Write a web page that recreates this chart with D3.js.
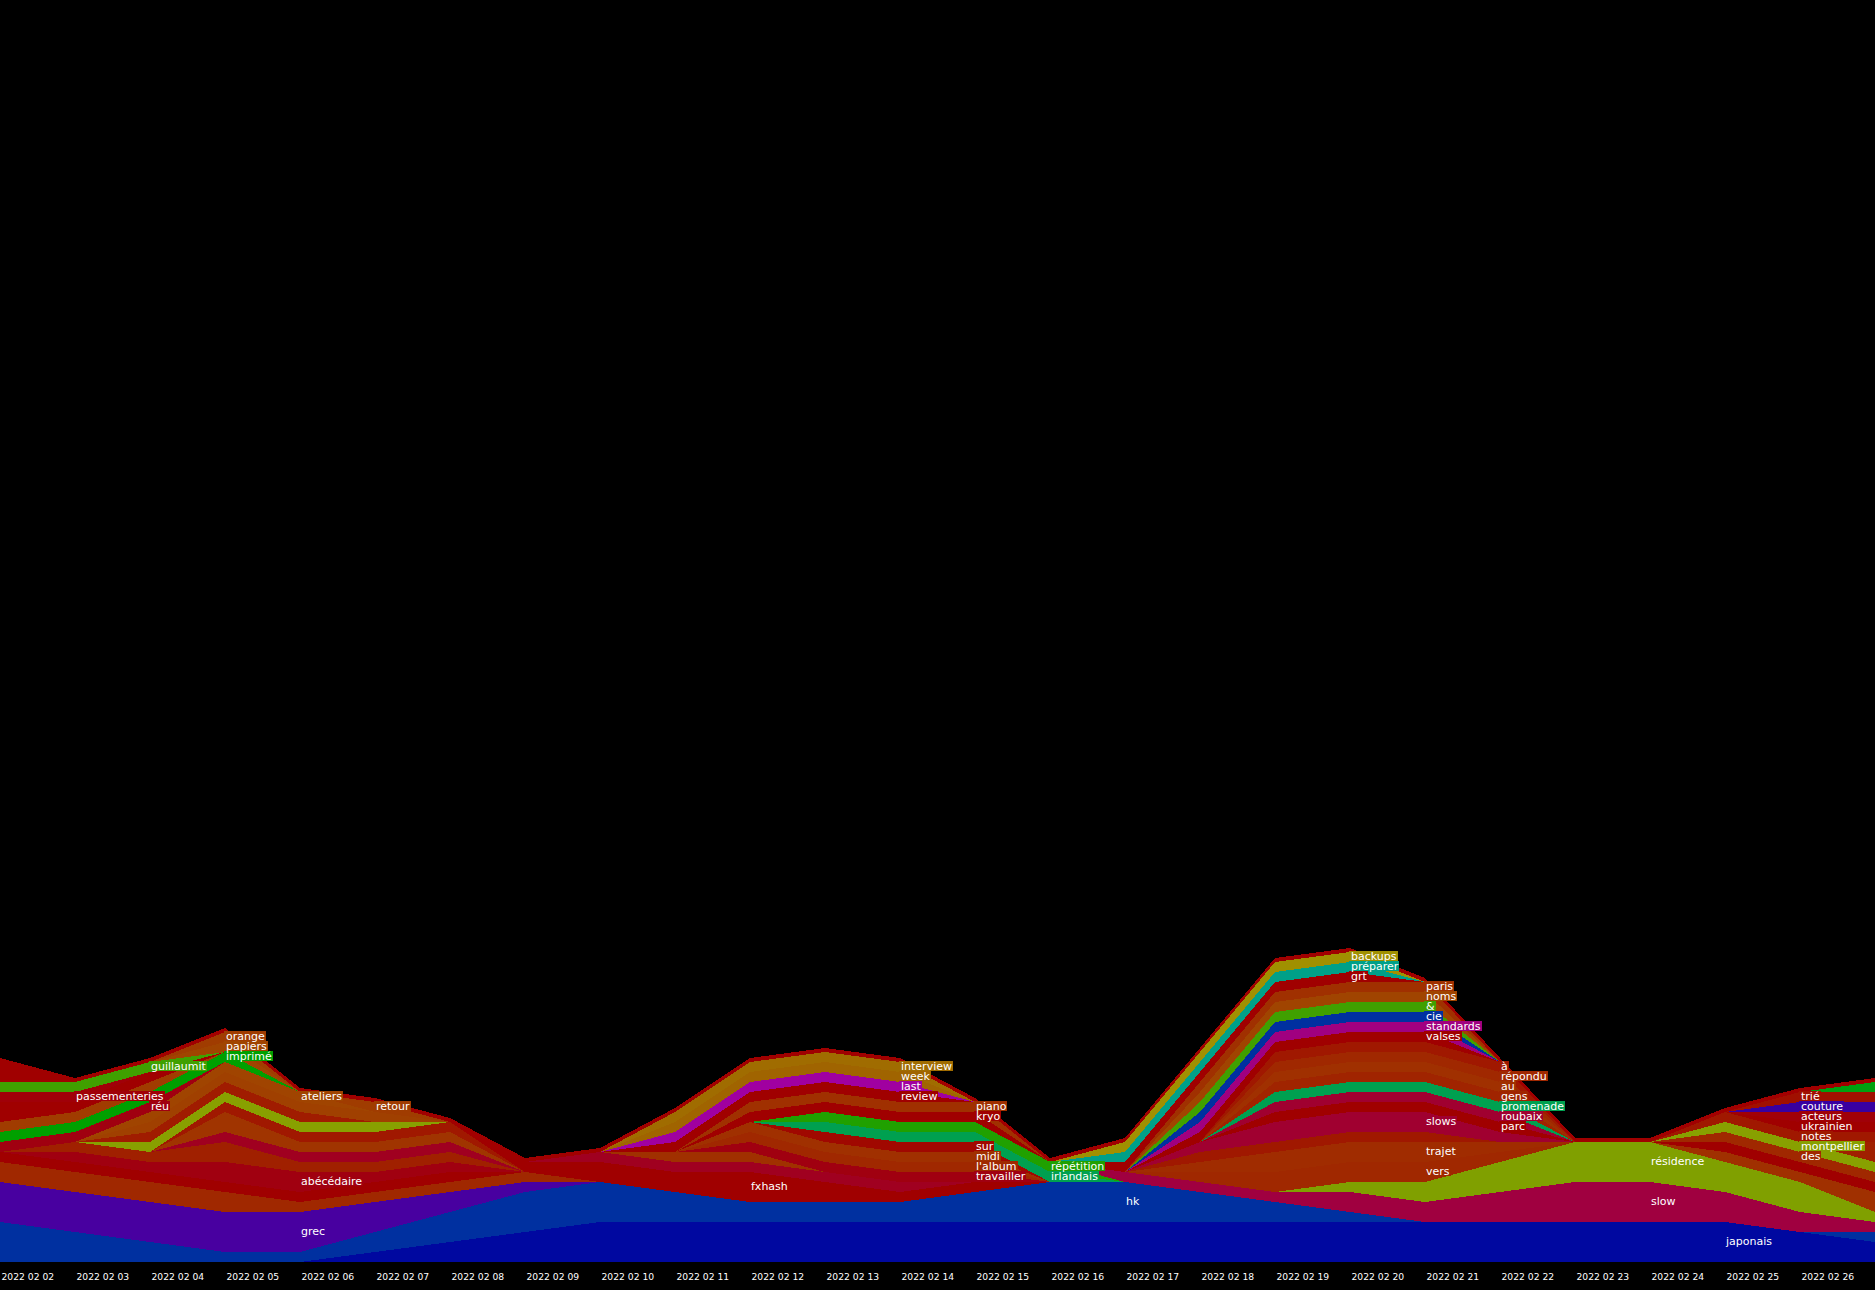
<!DOCTYPE html>
<html><head><meta charset="utf-8">
<script src="https://cdn.jsdelivr.net/npm/d3@7"></script>
<style>
html,body{margin:0;padding:0;background:#000;overflow:hidden;}
svg{display:block;}
</style></head><body>
<svg id="chart" width="1875" height="1290"></svg>
<script>
// ---- data ----
const dates = ["2022 02 02","2022 02 03","2022 02 04","2022 02 05","2022 02 06","2022 02 07","2022 02 08","2022 02 09","2022 02 10","2022 02 11","2022 02 12","2022 02 13","2022 02 14","2022 02 15","2022 02 16","2022 02 17","2022 02 18","2022 02 19","2022 02 20","2022 02 21","2022 02 22","2022 02 23","2022 02 24","2022 02 25","2022 02 26","2022 02 27"];
const tickLabels = dates.slice(0, 25);

// series names, bottom to top ("_" = unlabelled word)
const seriesNames = [
 "japonais","hk","grec",
 "_a1","_a2","abécédaire","_a3","_a4","_a5","_a6","_a7","_a8","_a9","ateliers","réu","imprimé","_a10","retour","_a11","passementeries","guillaumit","papiers","orange","_a12",
 "fxhash","_b1","_b2","travailler","l'album","midi","sur","irlandais","répétition","kryo","piano","review","last","week","interview",
 "slow","résidence","vers","trajet","_c1","slows","parc","roubaix","promenade","gens","au","répondu","à","valses","standards","cie","&","noms","paris","grt","préparer","backups",
 "_d1","_d2","des","montpellier","_d3","notes","ukrainien","acteurs","couture","trié","_d4",
 "_top"
];

// values per date (02 02 … 02 27), groups of five
const seriesValues = [
 /*japonais*/ [0,0,0,0,0, 1,2,3,4,4, 4,4,4,4,4, 4,4,4,4,4, 4,4,4,4,3, 2],
 /*hk*/       [4,3,2,1,1, 2,3,4,4,3, 2,2,2,3,4, 4,3,2,1,0, 0,0,0,0,0, 1],
 /*grec*/     [4,4,4,4,4, 3,2,1,0,0, 0,0,0,0,0, 0,0,0,0,0, 0,0,0,0,0, 0],
 /*_a1*/      [2,2,2,2,1, 1,1,1,0,0, 0,0,0,0,0, 0,0,0,0,0, 0,0,0,0,0, 0],
 /*_a2*/      [1,1,1,1,1, 1,1,0,0,0, 0,0,0,0,0, 0,0,0,0,0, 0,0,0,0,0, 0],
 /*abécédaire*/[0,1,1,2,2, 1,1,0,0,0, 0,0,0,0,0, 0,0,0,0,0, 0,0,0,0,0, 0],
 /*_a3*/      [0,1,1,2,1, 1,1,0,0,0, 0,0,0,0,0, 0,0,0,0,0, 0,0,0,0,0, 0],
 /*_a4*/      [0,0,0,1,1, 1,1,0,0,0, 0,0,0,0,0, 0,0,0,0,0, 0,0,0,0,0, 0],
 /*_a5*/      [0,0,0,2,1, 1,1,0,0,0, 0,0,0,0,0, 0,0,0,0,0, 0,0,0,0,0, 0],
 /*_a6*/      [0,0,0,1,1, 1,1,0,0,0, 0,0,0,0,0, 0,0,0,0,0, 0,0,0,0,0, 0],
 /*_a7*/      [0,0,1,1,1, 1,0,0,0,0, 0,0,0,0,0, 0,0,0,0,0, 0,0,0,0,0, 0],
 /*_a8*/      [0,0,1,1,1, 0,0,0,0,0, 0,0,0,0,0, 0,0,0,0,0, 0,0,0,0,0, 0],
 /*_a9*/      [0,0,1,1,1, 1,0,0,0,0, 0,0,0,0,0, 0,0,0,0,0, 0,0,0,0,0, 0],
 /*ateliers*/ [0,0,1,1,1, 0,0,0,0,0, 0,0,0,0,0, 0,0,0,0,0, 0,0,0,0,0, 0],
 /*réu*/      [1,1,1,0,0, 0,0,0,0,0, 0,0,0,0,0, 0,0,0,0,0, 0,0,0,0,0, 0],
 /*imprimé*/  [1,1,1,1,0, 0,0,0,0,0, 0,0,0,0,0, 0,0,0,0,0, 0,0,0,0,0, 0],
 /*_a10*/     [1,1,1,0,0, 0,0,0,0,0, 0,0,0,0,0, 0,0,0,0,0, 0,0,0,0,0, 0],
 /*retour*/   [0,0,0,0,0, 1,0,0,0,0, 0,0,0,0,0, 0,0,0,0,0, 0,0,0,0,0, 0],
 /*_a11*/     [2,1,1,0,0, 0,0,0,0,0, 0,0,0,0,0, 0,0,0,0,0, 0,0,0,0,0, 0],
 /*passementeries*/[1,1,0,0,0, 0,0,0,0,0, 0,0,0,0,0, 0,0,0,0,0, 0,0,0,0,0, 0],
 /*guillaumit*/[1,1,1,0,0, 0,0,0,0,0, 0,0,0,0,0, 0,0,0,0,0, 0,0,0,0,0, 0],
 /*papiers*/  [0,0,0,1,0, 0,0,0,0,0, 0,0,0,0,0, 0,0,0,0,0, 0,0,0,0,0, 0],
 /*orange*/   [0,0,0,1,0, 0,0,0,0,0, 0,0,0,0,0, 0,0,0,0,0, 0,0,0,0,0, 0],
 /*_a12*/     [2,0,0,0,0, 0,0,0,0,0, 0,0,0,0,0, 0,0,0,0,0, 0,0,0,0,0, 0],
 /*fxhash*/   [0,0,0,0,0, 0,0,1,2,2, 3,2,1,1,0, 0,0,0,0,0, 0,0,0,0,0, 0],
 /*_b1*/      [0,0,0,0,0, 0,0,0,1,1, 1,1,1,0,0, 0,0,0,0,0, 0,0,0,0,0, 0],
 /*_b2*/      [0,0,0,0,0, 0,0,0,0,1, 1,0,0,0,0, 0,0,0,0,0, 0,0,0,0,0, 0],
 /*travailler*/[0,0,0,0,0, 0,0,0,0,0, 1,1,1,1,0, 0,0,0,0,0, 0,0,0,0,0, 0],
 /*l'album*/  [0,0,0,0,0, 0,0,0,0,0, 1,1,1,1,0, 0,0,0,0,0, 0,0,0,0,0, 0],
 /*midi*/     [0,0,0,0,0, 0,0,0,0,0, 1,1,1,1,0, 0,0,0,0,0, 0,0,0,0,0, 0],
 /*sur*/      [0,0,0,0,0, 0,0,0,0,0, 0,1,1,1,0, 0,0,0,0,0, 0,0,0,0,0, 0],
 /*irlandais*/[0,0,0,0,0, 0,0,0,0,0, 0,1,1,1,1, 0,0,0,0,0, 0,0,0,0,0, 0],
 /*répétition*/[0,0,0,0,0, 0,0,0,0,0, 0,1,1,1,1, 0,0,0,0,0, 0,0,0,0,0, 0],
 /*kryo*/     [0,0,0,0,0, 0,0,0,0,0, 1,1,1,1,0, 0,0,0,0,0, 0,0,0,0,0, 0],
 /*piano*/    [0,0,0,0,0, 0,0,0,0,0, 1,1,1,1,0, 0,0,0,0,0, 0,0,0,0,0, 0],
 /*review*/   [0,0,0,0,0, 0,0,0,0,1, 1,1,1,0,0, 0,0,0,0,0, 0,0,0,0,0, 0],
 /*last*/     [0,0,0,0,0, 0,0,0,0,1, 1,1,1,0,0, 0,0,0,0,0, 0,0,0,0,0, 0],
 /*week*/     [0,0,0,0,0, 0,0,0,0,1, 1,1,1,0,0, 0,0,0,0,0, 0,0,0,0,0, 0],
 /*interview*/[0,0,0,0,0, 0,0,0,0,1, 1,1,1,0,0, 0,0,0,0,0, 0,0,0,0,0, 0],
 /*slow*/     [0,0,0,0,0, 0,0,0,0,0, 0,0,0,0,0, 1,1,1,2,2, 3,4,4,3,2, 1],
 /*résidence*/[0,0,0,0,0, 0,0,0,0,0, 0,0,0,0,0, 0,0,0,1,2, 3,4,4,3,3, 1],
 /*vers*/     [0,0,0,0,0, 0,0,0,0,0, 0,0,0,0,0, 0,1,2,2,2, 1,0,0,0,0, 0],
 /*trajet*/   [0,0,0,0,0, 0,0,0,0,0, 0,0,0,0,0, 0,1,2,2,2, 1,0,0,0,0, 0],
 /*_c1*/      [0,0,0,0,0, 0,0,0,0,0, 0,0,0,0,0, 0,1,1,1,1, 0,0,0,0,0, 0],
 /*slows*/    [0,0,0,0,0, 0,0,0,0,0, 0,0,0,0,0, 0,1,2,2,2, 1,0,0,0,0, 0],
 /*parc*/     [0,0,0,0,0, 0,0,0,0,0, 0,0,0,0,0, 0,0,1,1,1, 1,0,0,0,0, 0],
 /*roubaix*/  [0,0,0,0,0, 0,0,0,0,0, 0,0,0,0,0, 0,0,1,1,1, 1,0,0,0,0, 0],
 /*promenade*/[0,0,0,0,0, 0,0,0,0,0, 0,0,0,0,0, 0,0,1,1,1, 1,0,0,0,0, 0],
 /*gens*/     [0,0,0,0,0, 0,0,0,0,0, 0,0,0,0,0, 0,0,1,1,1, 1,0,0,0,0, 0],
 /*au*/       [0,0,0,0,0, 0,0,0,0,0, 0,0,0,0,0, 0,0,1,1,1, 1,0,0,0,0, 0],
 /*répondu*/  [0,0,0,0,0, 0,0,0,0,0, 0,0,0,0,0, 0,0,1,1,1, 1,0,0,0,0, 0],
 /*à*/        [0,0,0,0,0, 0,0,0,0,0, 0,0,0,0,0, 0,0,1,1,1, 1,0,0,0,0, 0],
 /*valses*/   [0,0,0,0,0, 0,0,0,0,0, 0,0,0,0,0, 0,1,1,1,1, 0,0,0,0,0, 0],
 /*standards*/[0,0,0,0,0, 0,0,0,0,0, 0,0,0,0,0, 0,1,1,1,1, 0,0,0,0,0, 0],
 /*cie*/      [0,0,0,0,0, 0,0,0,0,0, 0,0,0,0,0, 0,1,1,1,1, 0,0,0,0,0, 0],
 /*&*/        [0,0,0,0,0, 0,0,0,0,0, 0,0,0,0,0, 0,1,1,1,1, 0,0,0,0,0, 0],
 /*noms*/     [0,0,0,0,0, 0,0,0,0,0, 0,0,0,0,0, 0,1,1,1,1, 0,0,0,0,0, 0],
 /*paris*/    [0,0,0,0,0, 0,0,0,0,0, 0,0,0,0,0, 0,1,1,1,1, 0,0,0,0,0, 0],
 /*grt*/      [0,0,0,0,0, 0,0,0,0,0, 0,0,0,0,0, 1,1,1,1,0, 0,0,0,0,0, 0],
 /*préparer*/ [0,0,0,0,0, 0,0,0,0,0, 0,0,0,0,0, 1,1,1,1,0, 0,0,0,0,0, 0],
 /*backups*/  [0,0,0,0,0, 0,0,0,0,0, 0,0,0,0,0, 1,1,1,1,0, 0,0,0,0,0, 0],
 /*_d1*/      [0,0,0,0,0, 0,0,0,0,0, 0,0,0,0,0, 0,0,0,0,0, 0,0,0,1,1, 2],
 /*_d2*/      [0,0,0,0,0, 0,0,0,0,0, 0,0,0,0,0, 0,0,0,0,0, 0,0,0,1,1, 1],
 /*des*/      [0,0,0,0,0, 0,0,0,0,0, 0,0,0,0,0, 0,0,0,0,0, 0,0,0,1,1, 1],
 /*montpellier*/[0,0,0,0,0, 0,0,0,0,0, 0,0,0,0,0, 0,0,0,0,0, 0,0,0,1,1, 1],
 /*_d3*/      [0,0,0,0,0, 0,0,0,0,0, 0,0,0,0,0, 0,0,0,0,0, 0,0,0,0,0, 2],
 /*notes*/    [0,0,0,0,0, 0,0,0,0,0, 0,0,0,0,0, 0,0,0,0,0, 0,0,0,1,1, 1],
 /*ukrainien*/[0,0,0,0,0, 0,0,0,0,0, 0,0,0,0,0, 0,0,0,0,0, 0,0,0,0,1, 1],
 /*acteurs*/  [0,0,0,0,0, 0,0,0,0,0, 0,0,0,0,0, 0,0,0,0,0, 0,0,0,0,1, 1],
 /*couture*/  [0,0,0,0,0, 0,0,0,0,0, 0,0,0,0,0, 0,0,0,0,0, 0,0,0,0,1, 1],
 /*trié*/     [0,0,0,0,0, 0,0,0,0,0, 0,0,0,0,0, 0,0,0,0,0, 0,0,0,0,1, 1],
 /*_d4*/      [0,0,0,0,0, 0,0,0,0,0, 0,0,0,0,0, 0,0,0,0,0, 0,0,0,0,0, 1],
 /*_top*/     [0.4,0.4,0.4,0.4,0.4, 0.4,0.4,0.4,0.4,0.4, 0.4,0.4,0.4,0.4,0.4, 0.4,0.4,0.4,0.4,0.4, 0.4,0.4,0.4,0.4,0.4, 0.4]
];

// palette (one colour per series, same order)
const seriesColors = [
 "#0008a0","#0030a0","#4800a0",
 "#a02800","#a00000","#a00010","#a02000","#a00020","#a03400","#a01800","#88a000","#a01c00","#a04000","#a04400","#a00010","#00a000","#a03c00","#a03c00","#a00000","#a00008","#40a000","#a04400","#a03c00","#a00000",
 "#a00000","#a00020","#a03000","#a00010","#a02800","#a03000","#a00800","#00a050","#20a000","#a00000","#a03000","#a00000","#a000a0","#a06400","#a06c00",
 "#a00040","#80a000","#a02800","#a02c00","#a01800","#a00030","#a00000","#a00030","#00a050","#a02400","#a03000","#a02800","#a01800","#a00000","#a00080","#0030a0","#40a000","#a04400","#a03000","#a00000","#00a088","#a09000",
 "#a03000","#a00000","#a02800","#88a000","#a02000","#a01800","#a00000","#a00008","#3800a0","#a01000","#00a010",
 "#a00000"
];

// ---- layout ----
const W = 1875, H = 1290, baseY = 1262, yMax = 126.2;
const svg = d3.select("#chart");
svg.append("rect").attr("width", W).attr("height", H).attr("fill", "#000");

const x = d3.scalePoint().domain(dates).range([0, W]).padding(0);
const y = d3.scaleLinear().domain([0, yMax]).range([baseY, 0]);

const rows = dates.map((d, i) => {
  const r = { date: d };
  seriesNames.forEach((k, j) => { r[k] = seriesValues[j][i]; });
  return r;
});

const layers = d3.stack().keys(seriesNames)
  .order(d3.stackOrderNone).offset(d3.stackOffsetNone)(rows);

const area = d3.area()
  .x(d => x(d.data.date))
  .y0(d => y(d[0]))
  .y1(d => y(d[1]))
  .curve(d3.curveLinear);

svg.append("g").selectAll("path").data(layers).join("path")
  .attr("d", area)
  .attr("fill", (d, i) => seriesColors[i])
  .attr("shape-rendering", "crispEdges");

// axis
const axis = d3.axisBottom(x).tickValues(tickLabels).tickSize(0).tickPadding(11);
const gx = svg.append("g").attr("transform", `translate(0,${baseY})`).call(axis);
gx.select(".domain").remove();
gx.attr("font-family", "DejaVu Sans, sans-serif").attr("font-size", 9.2);
gx.selectAll("text").attr("text-anchor", "start").attr("dx", 1).attr("fill", "#fff");

// word labels: at the last date (before the right edge) where the word peaks
const labelG = svg.append("g").attr("font-family", "DejaVu Sans, sans-serif").attr("font-size", 11);
layers.forEach((L, j) => {
  const name = seriesNames[j];
  if (name.startsWith("_")) return;
  const vals = seriesValues[j].slice(0, dates.length - 1);
  const mx = d3.max(vals);
  if (!(mx > 0)) return;
  const idx = vals.lastIndexOf(mx);
  const p = L[idx];
  const cx = x(p.data.date), cy = y((p[0] + p[1]) / 2);
  const g = labelG.append("g");
  const r = g.append("rect");
  const t = g.append("text").attr("x", cx + 1).attr("y", cy + 3).attr("fill", "#fff").text(name);
  const w = t.node().getComputedTextLength();
  r.attr("x", cx - 1).attr("y", cy - 6).attr("width", w + 3).attr("height", 10)
   .attr("fill", seriesColors[j]).attr("shape-rendering", "crispEdges");
});
</script>
</body></html>
